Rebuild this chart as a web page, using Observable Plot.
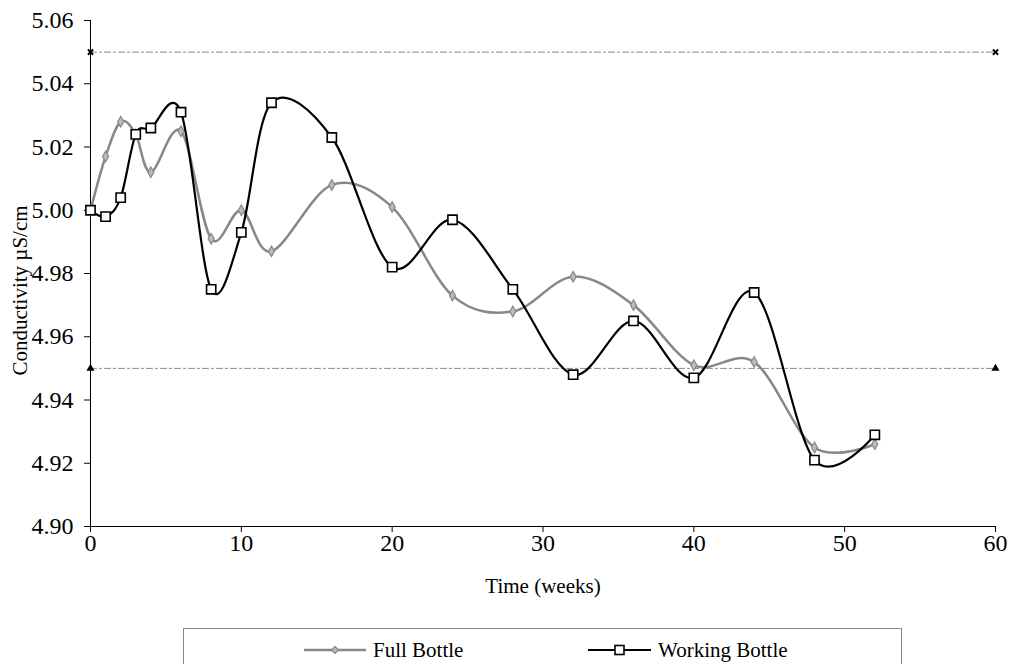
<!DOCTYPE html>
<html>
<head>
<meta charset="utf-8">
<script src="https://cdn.jsdelivr.net/npm/d3@7"></script>
<script src="https://cdn.jsdelivr.net/npm/@observablehq/plot@0.6"></script>
<style>
  body { margin: 0; background: #fff; font-family: "Liberation Serif", "DejaVu Serif", serif; }
  #wrap { position: relative; width: 1010px; height: 664px; overflow: hidden; }
  #legend { position: absolute; left: 183px; top: 628px; width: 719px; height: 60px; border: 1px solid #888; box-sizing: border-box; }
  #chart svg, #chart svg text { font-family: "Liberation Serif", "DejaVu Serif", serif !important; }
</style>
</head>
<body>
<div id="wrap">
  <div id="chart"></div>
  <div id="legend"></div>
</div>
<script>
const fullWeeks = [0, 1, 2, 3, 4, 6, 8, 10, 12, 16, 20, 24, 28, 32, 36, 40, 44, 48, 52];
const fullValues = [5.000, 5.017, 5.028, 5.024, 5.012, 5.025, 4.991, 5.000, 4.987, 5.008, 5.001, 4.973, 4.968, 4.979, 4.970, 4.951, 4.952, 4.925, 4.926];
const workWeeks = [0, 1, 2, 3, 4, 6, 8, 10, 12, 16, 20, 24, 28, 32, 36, 40, 44, 48, 52];
const workValues = [5.000, 4.998, 5.004, 5.024, 5.026, 5.031, 4.975, 4.993, 5.034, 5.023, 4.982, 4.997, 4.975, 4.948, 4.965, 4.947, 4.974, 4.921, 4.929];
const limitUpper = 5.05;
const limitLower = 4.95;
const limitWeeks = [0, 60];
const xTicks = [0, 10, 20, 30, 40, 50, 60];
const yTicks = [4.90, 4.92, 4.94, 4.96, 4.98, 5.00, 5.02, 5.04, 5.06];
const seriesNames = ["Full Bottle", "Working Bottle"];

const full = fullWeeks.map((w, i) => ({week: w, value: fullValues[i]}));
const work = workWeeks.map((w, i) => ({week: w, value: workValues[i]}));
const upper = limitWeeks.map(w => ({week: w, value: limitUpper}));
const lower = limitWeeks.map(w => ({week: w, value: limitLower}));

const font = "Liberation Serif";
const curve = "cardinal";

const chart = Plot.plot({
  width: 1010,
  height: 620,
  marginLeft: 90,
  marginRight: 15,
  marginTop: 20,
  marginBottom: 94,
  style: {fontFamily: font, fontSize: "24px", color: "#000", background: "#fff"},
  x: {domain: [0, 60]},
  y: {domain: [4.90, 5.06]},
  marks: [
    Plot.lineY(upper, {x: "week", y: "value", stroke: "#888", strokeWidth: 1, strokeDasharray: "6,3,2,3"}),
    Plot.lineY(lower, {x: "week", y: "value", stroke: "#888", strokeWidth: 1, strokeDasharray: "6,3,2,3"}),
    Plot.dot(upper, {x: "week", y: "value", symbol: "times", r: 2.5, stroke: "#000", strokeWidth: 1.8}),
    Plot.dot(lower, {x: "week", y: "value", symbol: "triangle", r: 3, fill: "#000", stroke: "none"}),
    Plot.axisY({ticks: yTicks, tickFormat: d => d.toFixed(2), fontSize: 24, fontFamily: font, tickSize: 6, tickPadding: 11, label: null}),
    Plot.axisX({ticks: xTicks, tickFormat: d => String(d), fontSize: 24, fontFamily: font, tickSize: 6, tickPadding: 1, label: null}),
    Plot.ruleX([0], {stroke: "#000", strokeWidth: 1}),
    Plot.ruleY([4.90], {stroke: "#000", strokeWidth: 1}),
    Plot.line(full, {x: "week", y: "value", stroke: "#888", strokeWidth: 2.5, curve, tension: 0}),
    Plot.dot(full, {x: "week", y: "value", symbol: "diamond", r: 3.2, stroke: "#888", fill: "#bbb", strokeWidth: 1.2}),
    Plot.line(work, {x: "week", y: "value", stroke: "#000", strokeWidth: 2.2, curve, tension: 0}),
    Plot.dot(work, {x: "week", y: "value", symbol: "square", r: 5.2, stroke: "#000", fill: "#fff", strokeWidth: 1.6}),
    Plot.text(["Conductivity µS/cm"], {frameAnchor: "left", textAnchor: "middle", rotate: -90, dx: -70, dy: 17, fontSize: 21, fontFamily: font, fill: "#000"}),
    Plot.text(["Time (weeks)"], {frameAnchor: "bottom", dy: 66, fontSize: 21, fontFamily: font, fill: "#000"})
  ]
});
document.getElementById("chart").appendChild(chart);

// Legend
const legend = document.getElementById("legend");
legend.innerHTML = `
<svg width="719" height="40" style="font-family:'${font}';">
  <line x1="120" x2="182" y1="21" y2="21" stroke="#888" stroke-width="2.5"/>
  <path d="M151,17.5 L154.5,21 L151,24.5 L147.5,21 Z" fill="#bbb" stroke="#888" stroke-width="1.2"/>
  <text x="189" y="21" dy="0.35em" font-size="21">${seriesNames[0]}</text>
  <line x1="404" x2="467" y1="21" y2="21" stroke="#000" stroke-width="2.2"/>
  <rect x="431" y="16.5" width="9" height="9" fill="#fff" stroke="#000" stroke-width="1.6"/>
  <text x="474" y="21" dy="0.35em" font-size="21">${seriesNames[1]}</text>
</svg>`;
</script>
</body>
</html>
